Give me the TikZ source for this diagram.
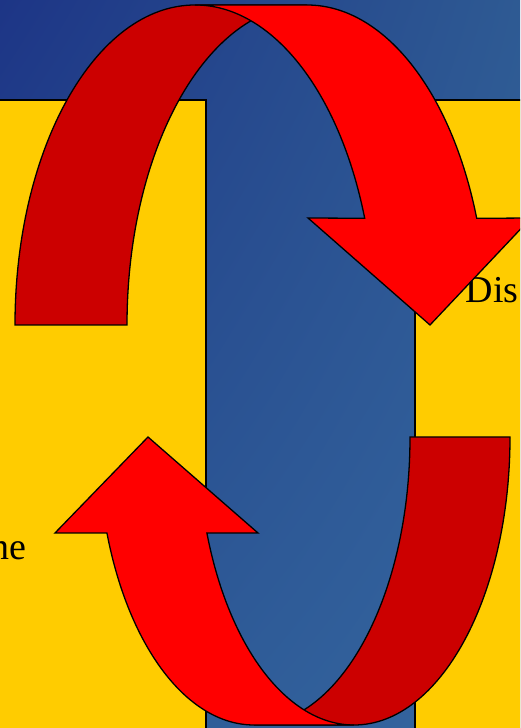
\documentclass[tikz,border=0pt]{standalone}
\usepackage{fontspec}
\setmainfont{Liberation Serif}
\usetikzlibrary{shadings}

\definecolor{bgtl}{HTML}{1D3586}
\definecolor{bgtr}{HTML}{2E5A93}
\definecolor{bgbl}{HTML}{2B5793}
\definecolor{bgbr}{HTML}{3566A0}
\definecolor{panelyellow}{HTML}{FFCC00}
\definecolor{backred}{HTML}{CC0000}
\definecolor{frontred}{HTML}{FF0000}

\begin{document}
\begin{tikzpicture}[x=1pt,y=1pt,line width=1.3pt,
  panel/.style={draw=black,fill=panelyellow},
  backband/.style={draw=black,fill=backred},
  frontband/.style={draw=black,fill=frontred},
  lbl/.style={inner sep=0pt,font=\fontsize{38}{40}\selectfont}]
  \useasboundingbox (0,0) rectangle (520,728);
  \clip (0,0) rectangle (520,728);
  \shade[upper left=bgtl,upper right=bgtr,lower left=bgbl,lower right=bgbr]
    (0,0) rectangle (520,728);
  \draw[panel] (-5,-5) rectangle (206,628);
  \draw[panel] (415,-5) rectangle (530,628);
  \node[lbl,anchor=base west] (dis) at (465,425) {Dis};
  \node[lbl,anchor=base east] (ne) at (27,168) {ne};
  % upper arrow
  \draw[backband] (15,403) arc[start angle=180,end angle=90,x radius=180pt,y radius=320pt]
    -- (307,723) arc[start angle=90,end angle=180,x radius=180pt,y radius=320pt] -- cycle;
  \draw[frontband] (307,723) arc[start angle=90,end angle=19.47,x radius=180pt,y radius=320pt]
    -- (531,510) -- (430,403) -- (308,510) -- (364.7,509.7)
    arc[start angle=19.47,end angle=90,x radius=180pt,y radius=320pt] -- cycle;
  % lower arrow
  \draw[backband] (510,291) arc[start angle=0,end angle=-90,x radius=156pt,y radius=288pt]
    -- (254,3) arc[start angle=-90,end angle=0,x radius=156pt,y radius=288pt] -- cycle;
  \draw[frontband] (254,3) arc[start angle=-90,end angle=-160.53,x radius=156pt,y radius=288pt]
    -- (55,195) -- (148,291) -- (258,195) -- (206.9,195)
    arc[start angle=-160.53,end angle=-90,x radius=156pt,y radius=288pt] -- cycle;
\end{tikzpicture}
\end{document}
